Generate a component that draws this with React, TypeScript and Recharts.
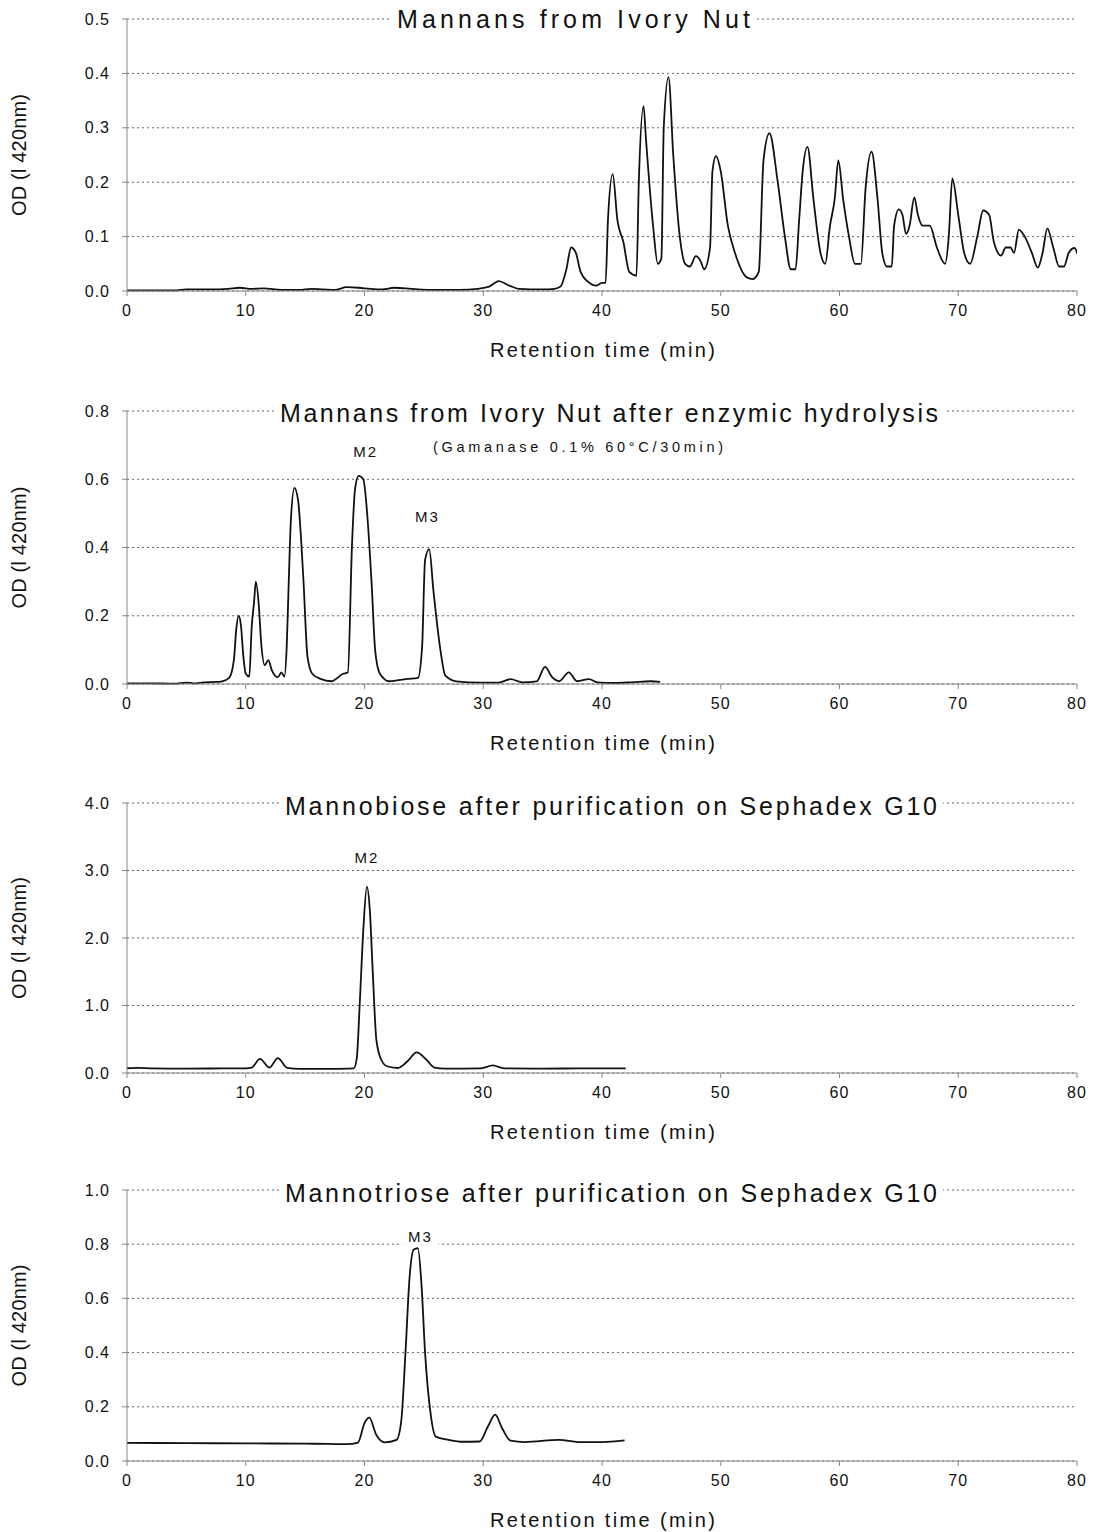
import React from 'react';
import { LineChart, Line, XAxis, YAxis, CartesianGrid, ReferenceDot } from 'recharts';

const FONT = '"Liberation Sans", Arial, sans-serif';

const xTicks = [0, 10, 20, 30, 40, 50, 60, 70, 80];

// Mannans from Ivory Nut
const ivoryTime = [0, 2, 4, 5, 7, 8.5, 9.5, 10.5, 11.5, 13, 14.5, 15.5, 16.5, 17.5, 18.5, 19.5, 20.5, 21.5, 22.5, 23.5, 24.5, 26, 28, 29.5, 30.5, 31.3, 32.2, 33, 35, 36, 36.5, 37, 37.4, 37.8, 38.2, 39, 39.5, 40, 40.3, 40.5, 40.9, 41.3, 41.8, 42.3, 42.9, 43.1, 43.5, 43.7, 44.3, 44.7, 45, 45.2, 45.6, 46, 46.5, 47, 47.4, 47.9, 48.3, 48.6, 49.1, 49.3, 49.6, 50, 50.6, 51.2, 52.2, 52.7, 53.2, 53.6, 54.1, 54.8, 55.4, 55.9, 56.3, 56.6, 56.9, 57.3, 57.8, 58.4, 58.8, 59.2, 59.6, 59.9, 60.3, 60.8, 61.3, 61.8, 62.2, 62.7, 63.2, 63.6, 64, 64.4, 64.6, 65, 65.3, 65.6, 65.9, 66.3, 66.6, 67, 67.6, 68.2, 68.9, 69.2, 69.5, 70, 70.5, 71, 71.6, 72.1, 72.6, 73, 73.6, 74, 74.4, 74.7, 75.1, 75.6, 76.2, 76.7, 77.1, 77.5, 78, 78.5, 78.9, 79.3, 79.8, 80.2, 80.6];
const ivoryOD = [0.001, 0.001, 0.001, 0.003, 0.003, 0.004, 0.006, 0.004, 0.005, 0.002, 0.002, 0.004, 0.003, 0.002, 0.007, 0.006, 0.004, 0.003, 0.006, 0.005, 0.003, 0.002, 0.002, 0.004, 0.008, 0.018, 0.01, 0.004, 0.003, 0.004, 0.008, 0.04, 0.08, 0.07, 0.035, 0.014, 0.01, 0.015, 0.015, 0.13, 0.215, 0.13, 0.09, 0.035, 0.028, 0.2, 0.34, 0.28, 0.12, 0.05, 0.06, 0.3, 0.393, 0.25, 0.11, 0.05, 0.045, 0.064, 0.055, 0.04, 0.08, 0.22, 0.248, 0.22, 0.12, 0.07, 0.025, 0.022, 0.035, 0.24, 0.29, 0.2, 0.1, 0.04, 0.04, 0.13, 0.22, 0.265, 0.17, 0.07, 0.05, 0.12, 0.17, 0.24, 0.17, 0.1, 0.05, 0.05, 0.19, 0.256, 0.17, 0.07, 0.045, 0.045, 0.12, 0.15, 0.14, 0.105, 0.12, 0.172, 0.14, 0.12, 0.12, 0.08, 0.05, 0.1, 0.207, 0.14, 0.07, 0.05, 0.1, 0.148, 0.14, 0.09, 0.065, 0.08, 0.08, 0.07, 0.113, 0.1, 0.07, 0.043, 0.07, 0.115, 0.08, 0.045, 0.045, 0.07, 0.079, 0.06, 0.055];

// after enzymic hydrolysis
const hydroTime = [0, 2, 4, 5, 5.6, 6.5, 7.5, 8, 8.6, 9, 9.2, 9.4, 9.6, 9.8, 10, 10.3, 10.5, 10.7, 10.85, 11.1, 11.3, 11.6, 11.9, 12.2, 12.7, 13, 13.25, 13.45, 13.6, 13.8, 14.1, 14.4, 14.85, 15.2, 15.6, 16.3, 17.2, 18.2, 18.6, 18.95, 19.2, 19.5, 19.9, 20.2, 20.6, 20.9, 21.3, 22.1, 23.6, 24.5, 24.85, 25.1, 25.45, 25.8, 26.4, 26.8, 27.7, 29.8, 31.3, 32.3, 33.3, 34.5, 35.2, 35.8, 36.4, 37.2, 37.9, 38.9, 39.6, 41, 42.5, 44.1, 44.9];
const hydroOD = [0.002, 0.002, 0.001, 0.004, 0.002, 0.005, 0.006, 0.008, 0.018, 0.07, 0.16, 0.2, 0.17, 0.08, 0.03, 0.022, 0.167, 0.24, 0.3, 0.23, 0.12, 0.055, 0.07, 0.04, 0.02, 0.034, 0.022, 0.11, 0.275, 0.48, 0.575, 0.54, 0.31, 0.08, 0.03, 0.015, 0.008, 0.03, 0.034, 0.41, 0.57, 0.61, 0.6, 0.51, 0.295, 0.098, 0.03, 0.008, 0.015, 0.018, 0.108, 0.363, 0.395, 0.275, 0.098, 0.025, 0.008, 0.004, 0.004, 0.014, 0.005, 0.008, 0.05, 0.02, 0.008, 0.034, 0.008, 0.014, 0.005, 0.003, 0.005, 0.008, 0.006];

// Mannobiose (G10)
const biosTime = [0, 1, 2, 5, 8, 10, 10.5, 11.2, 12, 12.7, 13.5, 14.5, 17, 19.1, 19.35, 19.6, 19.9, 20.2, 20.45, 20.7, 21, 21.4, 21.9, 22.8, 23.6, 24.4, 25.2, 25.9, 26.8, 29.8, 30.8, 31.75, 35, 38, 42];
const biosOD = [0.07, 0.075, 0.07, 0.065, 0.068, 0.07, 0.08, 0.21, 0.08, 0.22, 0.075, 0.06, 0.062, 0.07, 0.22, 1.03, 2.12, 2.76, 2.41, 1.48, 0.49, 0.2, 0.1, 0.074, 0.17, 0.305, 0.2, 0.08, 0.065, 0.07, 0.113, 0.07, 0.065, 0.068, 0.07];

// Mannotriose (G10)
const triosTime = [0, 5, 10, 15, 17, 18.5, 19.45, 20, 20.4, 21, 21.7, 22.7, 23.1, 23.45, 23.8, 24.15, 24.5, 24.8, 25.1, 25.55, 26, 27.1, 28.3, 29.7, 30.4, 31, 31.6, 32.3, 33.5, 36.4, 38, 40, 41.9];
const triosOD = [0.067, 0.066, 0.065, 0.064, 0.063, 0.062, 0.068, 0.14, 0.16, 0.096, 0.069, 0.078, 0.15, 0.4, 0.68, 0.78, 0.785, 0.65, 0.4, 0.18, 0.09, 0.078, 0.071, 0.072, 0.128, 0.171, 0.12, 0.075, 0.07, 0.078, 0.07, 0.07, 0.076];

const toRows = (t: number[], v: number[]) => t.map((x, i) => ({ t: x, od: v[i] }));

type Mark = { x: number; y: number; text: string };

// label with a white patch so the dotted grid is broken behind it
const MarkLabel = (text: string) => (props: any) => {
  const { viewBox } = props;
  const cx = viewBox.x + viewBox.width / 2;
  const cy = viewBox.y + viewBox.height / 2;
  return (
    <g>
      <rect x={cx - 18} y={cy - 10} width={36} height={20} fill="#fff" />
      <text x={cx} y={cy + 5.5} textAnchor="middle" fontSize={15} fontFamily={FONT} letterSpacing={2} fill="#111">
        {text}
      </text>
    </g>
  );
};

const Panel = ({
  rows, yMax, yTicks, plotTop, plotBottom, marks = [],
}: {
  rows: { t: number; od: number }[];
  yMax: number;
  yTicks: number[];
  plotTop: number;
  plotBottom: number;
  marks?: Mark[];
}) => {
  const mTop = 19;
  const xH = 45;
  const h = plotBottom - plotTop + mTop + xH;
  return (
    <div style={{ position: 'absolute', left: 0, top: plotTop - mTop }}>
      <LineChart width={1098} height={h} data={rows} margin={{ top: mTop, right: 21, bottom: 0, left: 67 }}>
        <CartesianGrid vertical={false} stroke="#666" strokeDasharray="2 3" />
        <XAxis
          dataKey="t"
          type="number"
          domain={[0, 80]}
          ticks={xTicks}
          allowDataOverflow
          height={xH}
          stroke="#888"
          tickSize={5}
          tickMargin={9}
          tick={{ fill: '#111', fontSize: 16, fontFamily: FONT, letterSpacing: 1 }}
        />
        <YAxis
          type="number"
          domain={[0, yMax]}
          ticks={yTicks}
          width={60}
          stroke="#888"
          tickSize={5}
          tickMargin={12}
          tickFormatter={(v: number) => v.toFixed(1)}
          tick={{ fill: '#111', fontSize: 16, fontFamily: FONT, letterSpacing: 1 }}
        />
        <Line
          type="monotone"
          dataKey="od"
          stroke="#111"
          strokeWidth={1.8}
          dot={false}
          isAnimationActive={false}
        />
        {marks.map((m) => (
          <ReferenceDot key={m.text + m.x} x={m.x} y={m.y} r={1} fill="none" stroke="none" label={MarkLabel(m.text)} />
        ))}
      </LineChart>
    </div>
  );
};

const titles = [
  { text: 'Mannans from Ivory Nut', x: 397, w: 353, y: 28 },
  { text: 'Mannans from Ivory Nut after enzymic hydrolysis', x: 280, w: 658, y: 422 },
  { text: 'Mannobiose after purification on Sephadex G10', x: 285, w: 652, y: 815 },
  { text: 'Mannotriose after purification on Sephadex G10', x: 285, w: 652, y: 1202 },
];

const panelBox = [
  { top: 19, bottom: 291 },
  { top: 411, bottom: 684 },
  { top: 803, bottom: 1073 },
  { top: 1190, bottom: 1461 },
];

export default function App() {
  return (
    <div style={{ position: 'absolute', left: 0, top: 0, width: 1098, height: 1532, background: '#fff' }}>
      <Panel rows={toRows(ivoryTime, ivoryOD)} yMax={0.5} yTicks={[0, 0.1, 0.2, 0.3, 0.4, 0.5]} plotTop={19} plotBottom={291} />
      <Panel
        rows={toRows(hydroTime, hydroOD)}
        yMax={0.8}
        yTicks={[0, 0.2, 0.4, 0.6, 0.8]}
        plotTop={411}
        plotBottom={684}
        marks={[{ x: 20.1, y: 0.68, text: 'M2' }, { x: 25.3, y: 0.49, text: 'M3' }]}
      />
      <Panel
        rows={toRows(biosTime, biosOD)}
        yMax={4}
        yTicks={[0, 1, 2, 3, 4]}
        plotTop={803}
        plotBottom={1073}
        marks={[{ x: 20.2, y: 3.19, text: 'M2' }]}
      />
      <Panel
        rows={toRows(triosTime, triosOD)}
        yMax={1}
        yTicks={[0, 0.2, 0.4, 0.6, 0.8, 1]}
        plotTop={1190}
        plotBottom={1461}
        marks={[{ x: 24.7, y: 0.83, text: 'M3' }]}
      />
      <svg width={1098} height={1532} style={{ position: 'absolute', left: 0, top: 0, pointerEvents: 'none' }}>
        {titles.map((t) => (
          <g key={t.text}>
            <rect x={t.x - 6} y={t.y - 22} width={t.w + 12} height={30} fill="#fff" />
            <text x={t.x} y={t.y} fontSize={25} fontFamily={FONT} fill="#111" textLength={t.w} lengthAdjust="spacing">
              {t.text}
            </text>
          </g>
        ))}
        <text x={433} y={452} fontSize={14.5} fontFamily={FONT} fill="#111" textLength={290} lengthAdjust="spacing">
          (Gamanase 0.1% 60°C/30min)
        </text>
        {panelBox.map((p, i) => {
          const cy = (p.top + p.bottom) / 2;
          const xb = p.bottom + 66;
          return (
            <g key={i}>
              <text x={490} y={xb} fontSize={20} fontFamily={FONT} fill="#111" textLength={225} lengthAdjust="spacing">
                Retention time (min)
              </text>
              <text transform={`translate(26, ${cy}) rotate(-90)`} x={-61} y={0} fontSize={20} fontFamily={FONT} fill="#111" textLength={122} lengthAdjust="spacing">
                OD (l 420nm)
              </text>
            </g>
          );
        })}
      </svg>
    </div>
  );
}
